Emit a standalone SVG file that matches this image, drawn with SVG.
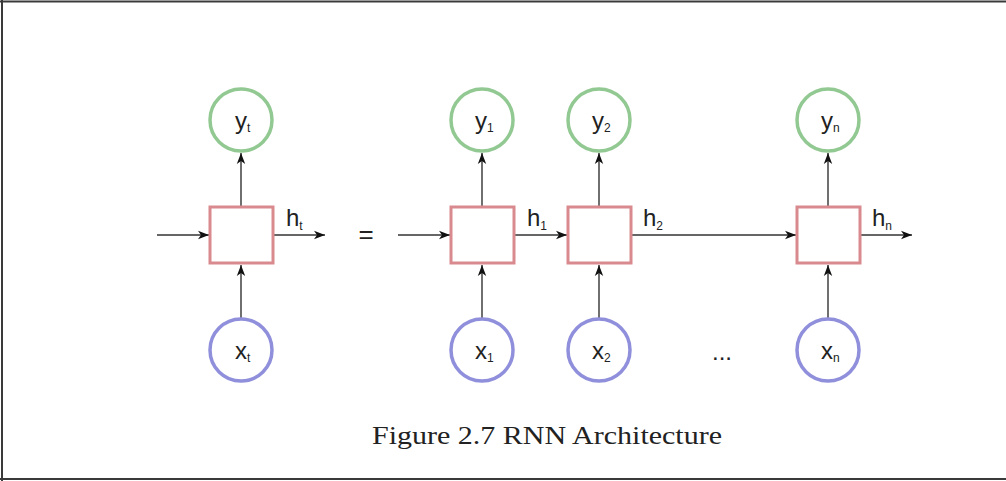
<svg xmlns="http://www.w3.org/2000/svg" width="1006" height="481" viewBox="0 0 1006 481">
<style>
.frame{stroke:#3a3a3a;stroke-width:2;fill:none}
.out{fill:#fff;stroke:#92c992;stroke-width:3.5}
.in{fill:#fff;stroke:#8f8fdc;stroke-width:3.5}
.cell{fill:#fff;stroke:#d98a8e;stroke-width:3}
.conn{stroke:#333;stroke-width:1.4;fill:none;marker-end:url(#ah)}
.lbl{font-family:"Liberation Sans",Arial,sans-serif;font-size:24px;fill:#222}
.sub{font-size:12px}
.cap{font-family:"Liberation Serif","Times New Roman",serif;font-size:26px;fill:#222}
</style>
<defs>
<marker id="ah" markerWidth="12" markerHeight="10" refX="11" refY="5" orient="auto" markerUnits="userSpaceOnUse">
<path d="M0,0.8 L11,5 L0,9.2 L3,5 Z" fill="#111"/>
</marker>
</defs>
<rect width="1006" height="481" fill="#fff"/>
<line class="frame" x1="0" y1="1.5" x2="1006" y2="1.5"/>
<line class="frame" x1="2" y1="0" x2="2" y2="481" stroke="#666"/>
<line class="frame" x1="0" y1="479" x2="1006" y2="479" stroke="#666"/>

<g id="connectors">
<line class="conn" x1="241" y1="207" x2="241" y2="153"/>
<line class="conn" x1="241" y1="319" x2="241" y2="265"/>
<line class="conn" x1="157" y1="235" x2="209" y2="235"/>
<line class="conn" x1="274" y1="235" x2="325" y2="235"/>

<line class="conn" x1="482" y1="207" x2="482" y2="153"/>
<line class="conn" x1="482" y1="319" x2="482" y2="265"/>
<line class="conn" x1="398" y1="235" x2="450" y2="235"/>
<line class="conn" x1="514" y1="235" x2="567" y2="235"/>

<line class="conn" x1="599" y1="207" x2="599" y2="153"/>
<line class="conn" x1="599" y1="319" x2="599" y2="265"/>
<line class="conn" x1="631" y1="235" x2="796" y2="235"/>

<line class="conn" x1="828" y1="207" x2="828" y2="153"/>
<line class="conn" x1="828" y1="319" x2="828" y2="265"/>
<line class="conn" x1="861" y1="235" x2="912" y2="235"/>
</g>

<g id="yt"><circle class="out" cx="241" cy="120" r="31"/><text class="lbl" x="235" y="129">y<tspan class="sub" dy="3">t</tspan></text></g>
<g id="cellt"><rect class="cell" x="210" y="207" width="63" height="56"/></g>
<g id="xt"><circle class="in" cx="241" cy="350" r="31"/><text class="lbl" x="235" y="359">x<tspan class="sub" dy="3">t</tspan></text></g>
<g id="ht"><text class="lbl" x="286" y="226">h<tspan class="sub" dy="4">t</tspan></text></g>

<g id="eq"><text class="lbl" x="366" y="243" text-anchor="middle" style="font-size:26px">=</text></g>

<g id="y1"><circle class="out" cx="482" cy="120" r="31"/><text class="lbl" x="475" y="129">y<tspan class="sub" dy="3">1</tspan></text></g>
<g id="cell1"><rect class="cell" x="451" y="207" width="63" height="56"/></g>
<g id="x1"><circle class="in" cx="482" cy="350" r="31"/><text class="lbl" x="475" y="359">x<tspan class="sub" dy="3">1</tspan></text></g>
<g id="h1"><text class="lbl" x="527" y="226">h<tspan class="sub" dy="4">1</tspan></text></g>

<g id="y2"><circle class="out" cx="599" cy="120" r="31"/><text class="lbl" x="592" y="129">y<tspan class="sub" dy="3">2</tspan></text></g>
<g id="cell2"><rect class="cell" x="568" y="207" width="63" height="56"/></g>
<g id="x2"><circle class="in" cx="599" cy="350" r="31"/><text class="lbl" x="592" y="359">x<tspan class="sub" dy="3">2</tspan></text></g>
<g id="h2"><text class="lbl" x="643" y="226">h<tspan class="sub" dy="4">2</tspan></text></g>

<g id="dots"><text class="lbl" x="712" y="360">...</text></g>

<g id="yn"><circle class="out" cx="828" cy="120" r="31"/><text class="lbl" x="821" y="129">y<tspan class="sub" dy="3">n</tspan></text></g>
<g id="celln"><rect class="cell" x="797" y="207" width="63" height="56"/></g>
<g id="xn"><circle class="in" cx="828" cy="350" r="31"/><text class="lbl" x="821" y="359">x<tspan class="sub" dy="3">n</tspan></text></g>
<g id="hn"><text class="lbl" x="872" y="226">h<tspan class="sub" dy="4">n</tspan></text></g>

<g id="caption"><text class="cap" x="372" y="444" textLength="350" lengthAdjust="spacingAndGlyphs">Figure 2.7 RNN Architecture</text></g>
</svg>
